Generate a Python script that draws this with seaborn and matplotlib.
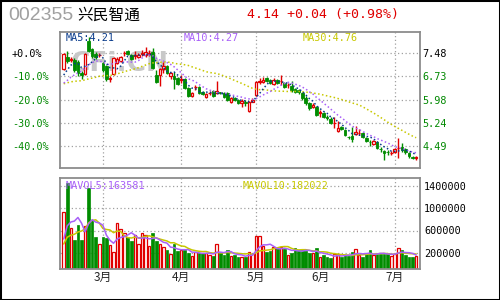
import numpy as np
import pandas as pd
import matplotlib
matplotlib.use("Agg")
import matplotlib.pyplot as plt
import seaborn as sns
from matplotlib.patches import Rectangle

# ---------------- data ----------------
title_code = "002355"
title_name = "兴民智通"
quote_text = "4.14 +0.04 (+0.98%)"
ma_texts = ["MA5:4.21", "MA10:4.27", "MA30:4.76"]
vol_texts = ["MAVOL5:163581", "MAVOL10:182022"]
watermark = "CFi.CN"

base_price = 7.48
pct_ticks = [0, -10, -20, -30, -40]
vol_ticks = [200000, 600000, 1000000, 1400000]
month_labels = ["3月", "4月", "5月", "6月", "7月"]
month_start = [11, 33, 54, 72, 93]
grid_days = [11, 33, 54, 93]

opens = [6.97, 7.35, 7.25, 7.25, 7.19, 6.84, 6.80, 7.87, 7.61, 7.45,
         7.42, 7.16, 7.06, 6.64, 6.80, 7.16, 7.22, 7.48, 7.54, 7.42,
         7.38, 7.35, 7.45, 7.42, 7.45, 7.51, 6.77, 6.77, 6.97, 7.06,
         6.74, 6.74, 6.68, 6.61, 6.64, 6.35, 6.10, 6.39, 6.39, 6.23,
         6.06, 6.19, 6.26, 6.19, 6.23, 6.19, 6.19, 5.90, 6.03, 5.97,
         5.87, 5.90, 5.61, 5.90, 6.13, 6.55, 6.55, 6.68, 6.61, 6.48,
         6.61, 6.58, 6.51, 6.45, 6.42, 6.32, 6.29, 6.19, 6.03, 5.87,
         5.74, 5.74, 5.55, 5.55, 5.42, 5.36, 5.23, 4.97, 5.10, 5.00,
         4.78, 4.81, 4.87, 4.91, 4.91, 4.75, 4.62, 4.55, 4.62, 4.39,
         4.33, 4.30, 4.26, 4.30, 4.42, 4.46, 4.39, 4.27, 4.13, 4.10]
closes = [7.45, 7.22, 7.29, 6.93, 6.84, 6.77, 7.45, 7.54, 7.38, 7.35,
          7.43, 6.93, 6.64, 6.68, 7.32, 7.29, 7.35, 7.49, 7.45, 7.29,
          7.42, 7.42, 7.48, 7.51, 7.48, 7.00, 6.55, 6.97, 7.06, 6.84,
          6.84, 6.64, 6.48, 6.64, 6.35, 6.10, 6.19, 6.40, 6.19, 6.16,
          6.16, 6.20, 6.10, 6.26, 6.19, 6.06, 5.97, 6.03, 5.97, 5.87,
          5.94, 5.87, 5.90, 5.97, 6.55, 6.58, 6.61, 6.58, 6.51, 6.61,
          6.51, 6.59, 6.39, 6.46, 6.29, 6.23, 6.23, 6.03, 5.87, 5.71,
          5.81, 5.49, 5.58, 5.42, 5.39, 5.23, 5.24, 5.07, 5.04, 4.84,
          4.77, 4.71, 4.94, 4.92, 4.78, 4.65, 4.61, 4.65, 4.42, 4.38,
          4.26, 4.29, 4.27, 4.39, 4.43, 4.36, 4.29, 4.16, 4.10, 4.14]
highs = [7.48, 7.54, 7.35, 7.32, 7.25, 6.90, 7.48, 7.99, 7.64, 7.51,
         7.48, 7.19, 7.09, 6.74, 7.35, 7.35, 7.38, 7.54, 7.58, 7.45,
         7.54, 7.48, 7.58, 7.67, 7.58, 7.64, 6.93, 7.00, 7.19, 7.09,
         6.87, 6.87, 6.71, 6.77, 6.68, 6.39, 6.23, 6.45, 6.42, 6.26,
         6.19, 6.26, 6.29, 6.58, 6.23, 6.23, 6.23, 6.06, 6.06, 6.00,
         6.00, 5.97, 5.94, 6.03, 6.58, 6.68, 6.71, 6.71, 6.64, 6.68,
         6.64, 6.77, 6.55, 6.51, 6.58, 6.35, 6.32, 6.23, 6.10, 5.90,
         5.87, 5.77, 5.65, 5.58, 5.49, 5.42, 5.42, 5.29, 5.13, 5.04,
         4.81, 5.10, 5.13, 5.04, 4.94, 4.78, 4.68, 4.68, 4.65, 4.46,
         4.36, 4.36, 4.33, 4.42, 4.75, 4.58, 4.42, 4.30, 4.17, 4.17]
lows = [6.93, 7.16, 7.19, 6.87, 6.74, 6.64, 6.77, 7.51, 7.32, 7.29,
        7.35, 6.87, 6.58, 6.55, 6.77, 7.13, 7.19, 7.38, 7.42, 7.25,
        7.29, 7.32, 7.38, 7.35, 7.38, 6.97, 6.51, 6.42, 6.84, 6.80,
        6.64, 6.32, 6.45, 6.51, 6.32, 6.06, 6.06, 6.29, 6.16, 6.13,
        6.03, 6.13, 6.06, 6.16, 6.16, 6.03, 5.94, 5.87, 5.94, 5.84,
        5.74, 5.77, 5.58, 5.90, 6.10, 6.48, 6.51, 6.55, 6.48, 6.45,
        6.48, 6.45, 6.35, 6.35, 6.23, 6.19, 6.16, 5.97, 5.81, 5.65,
        5.71, 5.45, 5.42, 5.39, 5.32, 5.20, 5.07, 4.94, 5.00, 4.81,
        4.71, 4.62, 4.84, 4.84, 4.75, 4.62, 4.49, 4.52, 4.39, 4.30,
        4.04, 4.20, 4.20, 4.26, 4.10, 4.30, 4.23, 4.10, 4.07, 4.04]
volumes = [929000, 1450000, 650000, 431000, 698000, 431000, 680000, 1361000, 787000, 484000,
           355000, 484000, 472000, 337000, 218000, 728000, 621000, 550000, 490000, 413000,
           515000, 355000, 550000, 515000, 324000, 550000, 413000, 355000, 312000, 253000,
           188000, 365000, 235000, 253000, 253000, 194000, 147000, 218000, 205000, 194000,
           205000, 164000, 147000, 355000, 205000, 164000, 253000, 147000, 164000, 134000,
           134000, 134000, 218000, 177000, 502000, 502000, 324000, 218000, 235000, 312000,
           295000, 312000, 276000, 159000, 194000, 295000, 259000, 253000, 235000, 194000,
           194000, 295000, 129000, 164000, 129000, 116000, 177000, 177000, 134000, 164000,
           147000, 218000, 265000, 164000, 129000, 177000, 253000, 164000, 188000, 188000,
           175000, 195000, 145000, 190000, 297000, 250000, 160000, 130000, 130000, 148000]
# closes / volumes before the visible window (needed for the moving averages)
prior_closes = [6.30, 6.35, 6.42, 6.50, 6.55, 6.60, 6.58, 6.62, 6.55, 6.50,
                6.45, 6.52, 6.58, 6.50, 6.45, 6.40, 6.42, 6.38, 6.45, 6.48,
                6.35, 6.25, 6.18, 6.20, 6.27, 6.40, 6.52, 6.68, 6.80]
prior_volumes = [250000, 290000, 260000, 300000, 255000, 280000, 310000, 350000, 376000]

# ---------------- derived ----------------
o = np.array(opens); c = np.array(closes); h = np.array(highs); l = np.array(lows)
v = np.array(volumes, dtype=float)
n = len(c)
days = np.arange(n)
all_c = pd.Series(prior_closes + closes)
all_v = pd.Series(prior_volumes + volumes, dtype=float)
ma5 = all_c.rolling(5).mean().iloc[len(prior_closes):].to_numpy()
ma10 = all_c.rolling(10).mean().iloc[len(prior_closes):].to_numpy()
ma30 = all_c.rolling(30).mean().iloc[len(prior_closes):].to_numpy()
mav5 = all_v.rolling(5).mean().iloc[len(prior_volumes):].to_numpy()
mav10 = all_v.rolling(10).mean().iloc[len(prior_volumes):].to_numpy()
prev_c = np.concatenate([[prior_closes[-1]], c[:-1]])

# ---------------- style ----------------
sns.set_style("white")
plt.rcParams['font.family'] = ['DejaVu Sans Mono', 'Noto Sans CJK SC']
RED = "#e00000"
GREEN = "#008c00"
TXT_GREEN = "#008800"
BLUE = "#0a3c8c"
PURPLE = "#a860f8"
YELLOW = "#c8c800"
FRAME = "#8c8c8c"
GRID = "#a0a0a0"
W, H = 500, 300

fig = plt.figure(figsize=(W / 100, H / 100), dpi=100)
fig.patch.set_facecolor("white")
fig.patches.append(Rectangle((0, 0), 1, 1, transform=fig.transFigure,
                             fill=False, edgecolor="black", linewidth=2.2))

def fx(x):
    return x / W

def fy(y):
    return 1 - y / H

ax_p = fig.add_axes([fx(60), fy(168), fx(360), 136 / H])
ax_v = fig.add_axes([fx(60), fy(269), fx(360), 91 / H])

px_per_day = 3.56
x0 = -(63.7 - 60) / px_per_day
x1 = x0 + 360 / px_per_day
price_per_px = base_price / 232.5
price_lim = (base_price - 115 * price_per_px, base_price + 21 * price_per_px)
vol_per_px = 400000 / 22.5
vol_lim = (200000 - 16 * vol_per_px, 200000 + 75 * vol_per_px)

for ax in (ax_p, ax_v):
    ax.set_xlim(x0, x1)
    for s in ax.spines.values():
        s.set_color(FRAME)
        s.set_linewidth(1.3)
    for d in grid_days:
        ax.axvline(d, color=GRID, linestyle=(0, (1, 2)), linewidth=0.9, zorder=0.5)

# ---------------- price panel ----------------
ax_p.set_ylim(*price_lim)
price_ticks = [base_price * (1 + p / 100) for p in pct_ticks]
for t in price_ticks:
    ax_p.axhline(t, color=GRID, linestyle=(0, (1, 2)), linewidth=0.9, zorder=0.5)

# watermark centred at pixel (120, 64)
ax_p.text(x0 + 60 / px_per_day, base_price - 11 * price_per_px, watermark,
          color="#c8c8c8", fontsize=19, fontweight="bold", family="DejaVu Sans",
          ha="center", va="center", zorder=0.8)

up = c > o + 0.005
down = c < o - 0.005
flat = ~(up | down)
flat_red = flat & (c >= prev_c)
wick_col = np.where(up | flat_red, RED, GREEN)
ax_p.vlines(days, l, h, colors=wick_col, linewidth=1.0, zorder=2)
body_lo = np.minimum(o, c)
body_hi = np.maximum(o, c)
body_h = np.maximum(body_hi - body_lo, 0.004)
ax_p.bar(days[up], body_h[up], bottom=body_lo[up], width=0.72,
         color="white", edgecolor=RED, linewidth=0.9, zorder=3)
ax_p.bar(days[down], body_h[down], bottom=body_lo[down], width=0.72,
         color=GREEN, edgecolor=GREEN, linewidth=0.6, zorder=3)
ax_p.bar(days[flat], body_h[flat], bottom=body_lo[flat], width=0.72,
         color=wick_col[flat], edgecolor=wick_col[flat], linewidth=0.9, zorder=3)

sns.lineplot(x=days, y=ma30, ax=ax_p, color=YELLOW, linestyle=(0, (1, 1.6)), linewidth=1.1, zorder=4)
sns.lineplot(x=days, y=ma10, ax=ax_p, color=PURPLE, linestyle=(0, (1, 1.6)), linewidth=1.1, zorder=4)
sns.lineplot(x=days, y=ma5, ax=ax_p, color=BLUE, linestyle=(0, (1, 1.6)), linewidth=1.1, zorder=4)
ax_p.set_ylim(*price_lim)
ax_p.set_xlim(x0, x1)
ax_p.set_xlabel("")
ax_p.set_ylabel("")
ax_p.set_xticks([])

pct_labels = ["+0.0%" if p == 0 else f"{p:.1f}%" for p in pct_ticks]
ax_p.set_yticks(price_ticks)
ax_p.set_yticklabels(pct_labels)
ax_p.tick_params(axis="y", length=0, pad=48 * 0.72, labelsize=7.3)
for lab, p in zip(ax_p.get_yticklabels(), pct_ticks):
    lab.set_horizontalalignment("left")
    lab.set_color("black" if p == 0 else TXT_GREEN)

ax_r = ax_p.twinx()
ax_r.set_ylim(*price_lim)
ax_r.set_yticks(price_ticks)
ax_r.set_yticklabels([f"{t:.2f}" for t in price_ticks])
ax_r.tick_params(axis="y", length=0, pad=1.6, labelsize=7.3)
for lab, p in zip(ax_r.get_yticklabels(), pct_ticks):
    lab.set_color("black" if p == 0 else TXT_GREEN)
for s in ax_r.spines.values():
    s.set_visible(False)

# ---------------- volume panel ----------------
ax_v.set_ylim(*vol_lim)
for t in vol_ticks:
    ax_v.axhline(t, color=GRID, linestyle=(0, (1, 2)), linewidth=0.9, zorder=0.5)
vb = vol_lim[0]
ax_v.bar(days[up], v[up] - vb, bottom=vb, width=0.74, color="white",
         edgecolor=RED, linewidth=0.9, zorder=2)
ax_v.bar(days[flat_red], v[flat_red] - vb, bottom=vb, width=0.74, color=RED,
         edgecolor=RED, linewidth=0.5, zorder=2)
gmask = down | (flat & ~flat_red)
ax_v.bar(days[gmask], v[gmask] - vb, bottom=vb, width=0.74, color=GREEN,
         edgecolor=GREEN, linewidth=0.5, zorder=2)
sns.lineplot(x=days, y=mav10, ax=ax_v, color=YELLOW, linewidth=1.1, zorder=3)
sns.lineplot(x=days, y=mav5, ax=ax_v, color=PURPLE, linewidth=1.1, zorder=3)
ax_v.set_ylim(*vol_lim)
ax_v.set_xlim(x0, x1)
ax_v.set_xlabel("")
ax_v.set_ylabel("")
ax_v.yaxis.tick_right()
ax_v.set_yticks(vol_ticks)
ax_v.set_yticklabels([str(t) for t in vol_ticks])
ax_v.tick_params(axis="y", length=0, pad=2.9, labelsize=7.3, labelcolor="black")
ax_v.set_xticks(month_start)
ax_v.set_xticklabels(month_labels, family="Noto Sans CJK SC", fontsize=8.5)
ax_v.tick_params(axis="x", length=0, pad=1.5)

# ---------------- texts ----------------
fig.text(fx(8), fy(15.5), title_code, color="#a0a0a0", fontsize=14,
         family="Liberation Sans", ha="left", va="center")
fig.text(fx(77), fy(15), title_name, color="black", fontsize=11.3,
         family="Noto Sans CJK SC", ha="left", va="center")
fig.text(fx(247), fy(14.5), quote_text, color=RED, fontsize=9.5,
         family="DejaVu Sans Mono", ha="left", va="center")

for txt, xx, col in zip(ma_texts, [66, 184, 303], [BLUE, PURPLE, YELLOW]):
    fig.text(fx(xx), fy(38), txt, color=col, fontsize=7.3, ha="left", va="center",
             family="DejaVu Sans Mono")
for txt, xx, col in zip(vol_texts, [66, 243], [PURPLE, YELLOW]):
    fig.text(fx(xx), fy(186), txt, color=col, fontsize=7.3, ha="left", va="center",
             family="DejaVu Sans Mono")

fig.savefig("out.png", dpi=100, facecolor="white")
